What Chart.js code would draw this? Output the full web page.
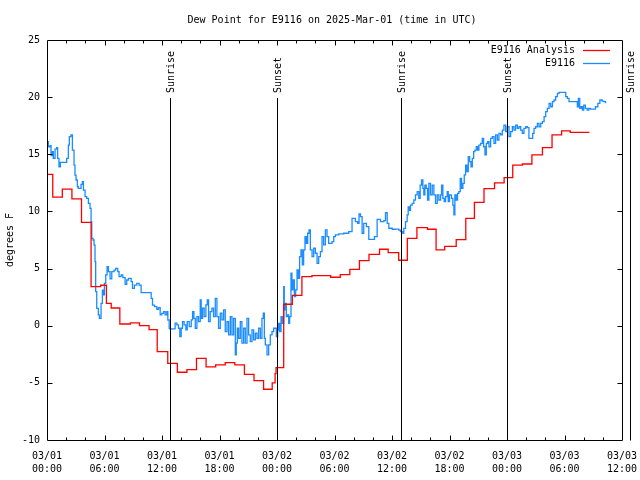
<!DOCTYPE html>
<html>
<head>
<meta charset="utf-8">
<script src="https://cdn.jsdelivr.net/npm/chart.js@4.4.1/dist/chart.umd.min.js"></script>
<style>
  html, body { margin: 0; padding: 0; background: #fff; }
</style>
</head>
<body>
<canvas id="dewChart" width="640" height="480"></canvas>
<script>
// hours since 03/01 00:00 UTC
var tickLabels = [
  ["03/01", "00:00"], ["03/01", "06:00"], ["03/01", "12:00"], ["03/01", "18:00"],
  ["03/02", "00:00"], ["03/02", "06:00"], ["03/02", "12:00"], ["03/02", "18:00"],
  ["03/03", "00:00"], ["03/03", "06:00"], ["03/03", "12:00"]
];

var sunHours = [12.85, 23.95, 36.9, 47.95, 60.85];
var sunLabels = ["Sunrise", "Sunset", "Sunrise", "Sunset", "Sunrise"];

// E9116 Analysis (hourly steps)
var analysisHours = [0, 0.6, 1.6, 2.6, 3.6, 4.6, 5.6, 6.2, 6.7, 7.6,
  8.7, 9.65, 10.65, 11.5, 12.6, 13.6, 14.6, 15.6, 16.6, 17.6,
  18.6, 19.6, 20.6, 21.6, 22.6, 23.5, 23.8, 23.9, 24.7, 25.6,
  26.6, 27.65, 29.6, 30.6, 31.6, 32.6, 33.6, 34.7, 35.6, 36.7,
  37.6, 38.6, 39.7, 40.6, 41.5, 42.7, 43.7, 44.6, 45.6, 46.7,
  47.7, 48.6, 49.6, 50.6, 51.7, 52.7, 53.7, 54.6, 56.6];
var analysisValues = [13.25, 11.26, 11.96, 11.09, 9.05, 3.42, 3.54, 1.96, 1.55, 0.15,
  0.24, 0.0, -0.35, -2.27, -3.29, -4.07, -3.84, -2.85, -3.6, -3.43,
  -3.23, -3.43, -4.25, -4.8, -5.56, -5.0, -4.2, -3.67, 1.88, 2.66,
  4.3, 4.38, 4.24, 4.47, 4.93, 5.7, 6.25, 6.69, 6.39, 5.73,
  7.65, 8.58, 8.44, 6.63, 6.95, 7.53, 9.4, 10.8, 12.0, 12.5,
  12.95, 14.06, 14.15, 14.94, 15.58, 16.69, 17.04, 16.92, 16.92];

// E9116 observations
var stationHours = [
  0, 0.14, 0.31, 0.42, 0.56, 0.66, 0.84, 1.01, 1.11, 1.25,
  1.39, 1.7, 2.0, 2.05, 2.23, 2.33, 2.5, 2.65, 2.82, 2.92,
  3.03, 3.17, 3.27, 3.55, 3.69, 3.8, 3.97, 4.14, 4.32, 4.49,
  4.6, 4.67, 4.8, 4.91, 5.01, 5.08, 5.19, 5.36, 5.47, 5.64,
  5.78, 5.89, 5.99, 6.13, 6.27, 6.41, 6.58, 6.76, 7.0, 7.17,
  7.38, 7.52, 7.73, 7.91, 8.15, 8.32, 8.5, 8.78, 8.92, 9.12,
  9.37, 9.61, 9.82, 10.24, 10.76, 10.87, 11.01, 11.22, 11.46, 11.63,
  11.81, 11.98, 12.16, 12.33, 12.5, 12.61, 12.75, 12.85, 13.0, 13.37,
  13.55, 13.72, 13.86, 14.0, 14.14, 14.31, 14.49, 14.63, 14.84, 15.05,
  15.19, 15.33, 15.47, 15.64, 15.81, 15.99, 16.09, 16.23, 16.4, 16.58,
  16.72, 16.86, 17.03, 17.21, 17.38, 17.56, 17.73, 17.9, 18.08, 18.25,
  18.43, 18.6, 18.78, 18.95, 19.13, 19.3, 19.47, 19.65, 19.75, 19.86,
  20.0, 20.17, 20.34, 20.52, 20.69, 20.87, 21.04, 21.21, 21.39, 21.56,
  21.74, 21.91, 22.08, 22.26, 22.43, 22.57, 22.68, 22.78, 22.96, 23.13,
  23.3, 23.48, 23.65, 23.93, 24.07, 24.17, 24.28, 24.42, 24.56, 24.7,
  24.76, 24.87, 24.97, 25.11, 25.22, 25.32, 25.46, 25.56, 25.67, 25.81,
  25.95, 26.09, 26.23, 26.36, 26.5, 26.64, 26.78, 26.92, 27.06, 27.2,
  27.34, 27.48, 27.66, 27.83, 28.0, 28.18, 28.35, 28.53, 28.7, 28.87,
  29.05, 29.22, 29.39, 29.57, 29.74, 29.92, 30.09, 30.44, 30.96, 31.48,
  31.83, 32.18, 32.42, 32.56, 32.71, 32.88, 33.05, 33.33, 33.58, 33.93,
  34.17, 34.45, 34.8, 35.15, 35.32, 35.5, 35.67, 36.02, 36.36, 36.71,
  36.88, 37.13, 37.23, 37.41, 37.58, 37.69, 37.83, 37.93, 38.1, 38.28,
  38.45, 38.63, 38.8, 38.94, 39.08, 39.22, 39.32, 39.43, 39.57, 39.71,
  39.85, 40.02, 40.2, 40.37, 40.54, 40.72, 40.89, 41.07, 41.17, 41.31,
  41.45, 41.59, 41.76, 41.87, 42.0, 42.21, 42.35, 42.46, 42.56, 42.7,
  42.84, 42.98, 43.12, 43.26, 43.4, 43.54, 43.68, 43.82, 43.96, 44.1,
  44.24, 44.38, 44.52, 44.65, 44.79, 44.93, 45.07, 45.25, 45.42, 45.56,
  45.7, 45.84, 45.98, 46.12, 46.29, 46.47, 46.64, 46.81, 46.99, 47.16,
  47.34, 47.51, 47.68, 47.86, 48.03, 48.21, 48.38, 48.56, 48.73, 48.9,
  49.08, 49.25, 49.43, 49.6, 49.77, 49.95, 50.12, 50.29, 50.54, 50.68,
  50.82, 50.99, 51.17, 51.34, 51.52, 51.69, 51.87, 52.04, 52.21, 52.39,
  52.56, 52.74, 52.91, 53.08, 53.26, 53.43, 53.95, 54.13, 54.3, 54.47,
  54.82, 55.17, 55.34, 55.45, 55.59, 55.73, 55.87, 56.01, 56.18, 56.36,
  56.53, 56.71, 56.99, 57.23, 57.48, 57.69, 57.93, 58.1, 58.28
];
var stationValues = [
  16.1, 15.66, 15.75, 14.88, 15.23, 14.64, 15.46, 15.58, 14.64, 13.9,
  14.3, 14.3, 14.3, 14.64, 15.81, 16.54, 16.69, 15.37, 14.06, 13.18,
  12.75, 12.16, 12.02, 12.37, 12.6, 11.87, 11.29, 11.14, 10.7, 10.27,
  9.1, 7.64, 7.5, 7.06, 5.6, 2.98, 1.52, 0.94, 0.65, 1.96,
  3.12, 2.69, 3.71, 4.44, 5.17, 4.73, 4.09, 4.73, 4.87, 5.02,
  4.73, 4.29, 4.44, 4.2, 3.62, 4.0, 4.15, 3.85, 3.27, 3.56,
  3.71, 3.56, 2.89, 2.89, 2.89, 2.4, 1.81, 1.67, 1.43, 1.58,
  0.94, 1.08, 1.23, 0.94, 1.23, 0.5, -0.23, -0.29, -0.28, 0.22,
  0.07, -0.22, -0.95, -0.22, 0.36, 0.07, -0.37, 0.36, -0.08, 0.51,
  1.24, 0.65, -0.22, 0.8, 0.36, 2.26, 0.65, 1.53, 0.8, 1.82,
  2.26, 0.36, 1.24, 1.53, 0.8, 2.4, 0.8, -0.22, 1.09, 0.51,
  1.38, -0.51, 0.36, -0.8, 0.8, -0.8, 0.65, -2.55, -1.53, -0.22,
  -1.1, 0.36, -1.53, -0.22, -1.53, 0.65, -0.8, -1.39, -0.37, -1.24,
  -0.66, -1.1, -0.22, -1.1, 0.65, 1.09, -1.1, -1.68, -2.55, -1.68,
  -0.8, -0.51, -0.22, -0.95, -0.37, 0.21, -0.51, 0.8, 0.21, 3.42,
  1.38, 1.96, 0.8, 0.94, 0.21, 0.8, 4.59, 3.13, 4.01, 2.55,
  3.13, 4.88, 4.15, 6.05, 6.63, 5.32, 6.63, 7.8, 7.21, 8.09,
  8.38, 6.63, 6.05, 6.78, 6.34, 5.46, 6.05, 6.49, 7.8, 7.07,
  8.38, 7.8, 7.21, 7.21, 7.36, 7.8, 7.94, 8.03, 8.09, 8.23,
  9.4, 9.11, 8.96, 9.78, 9.55, 8.09, 8.96, 8.67, 7.56, 7.56,
  7.8, 9.31, 9.11, 9.2, 9.9, 8.96, 8.53, 8.44, 8.46, 8.37,
  8.23, 8.08, 8.52, 9.1, 9.69, 10.4, 10.1, 10.56, 10.7, 11.0,
  11.44, 11.73, 11.14, 12.31, 12.75, 12.02, 11.44, 12.31, 12.02, 11.0,
  12.46, 11.44, 12.31, 11.44, 10.7, 11.44, 11.0, 11.44, 12.31, 11.14,
  10.85, 11.29, 11.73, 10.85, 11.44, 11.14, 10.56, 9.69, 11.44, 11.0,
  11.58, 11.73, 12.89, 12.02, 12.46, 13.19, 14.06, 13.48, 14.79, 14.35,
  13.9, 14.64, 15.23, 15.37, 15.66, 15.37, 15.81, 15.96, 16.39, 15.66,
  14.94, 15.96, 16.1, 15.66, 16.39, 16.54, 15.96, 16.69, 16.25, 16.83,
  16.69, 17.12, 17.56, 16.98, 17.41, 16.54, 16.98, 17.41, 17.12, 17.56,
  17.27, 17.41, 17.12, 16.83, 17.27, 17.41, 17.33, 16.39, 16.39, 16.83,
  17.27, 17.41, 17.71, 17.41, 17.71, 17.85, 18.29, 18.73, 19.02, 19.46,
  19.16, 19.6, 19.75, 20.04, 20.33, 20.42, 20.42, 20.04, 19.89, 19.6,
  19.6, 19.6, 19.16, 19.89, 19.02, 19.16, 18.87, 19.31, 19.02, 18.87,
  19.02, 18.96, 18.96, 19.16, 19.46, 19.75, 19.66, 19.6, 19.46
];

var FONT = "'DejaVu Sans Mono', 'Liberation Mono', monospace";

function toPoints(xs, ys) {
  return xs.map(function (x, i) { return { x: x, y: ys[i] }; });
}

// title, frame, inward ticks, sun lines and legend
var decorPlugin = {
  id: "decor",
  afterDraw: function (chart) {
    var ctx = chart.ctx;
    var area = chart.chartArea;
    var xs = chart.scales.x;
    var ys = chart.scales.y;
    ctx.save();
    ctx.fillStyle = "#000";
    ctx.strokeStyle = "#000";
    ctx.lineWidth = 1;
    ctx.font = "10px " + FONT;

    ctx.textAlign = "center";
    ctx.textBaseline = "middle";
    ctx.fillText("Dew Point for E9116 on 2025-Mar-01 (time in UTC)", 332, 20);

    var L = Math.round(area.left) + 0.5, R = Math.round(area.right) + 0.5;
    var T = Math.round(area.top) + 0.5, B = Math.round(area.bottom) + 0.5;
    ctx.beginPath();
    ctx.rect(L, T, R - L, B - T);
    ctx.stroke();

    ctx.beginPath();
    for (var h = 2; h < 60; h += 2) {
      var px = Math.round(xs.getPixelForValue(h)) + 0.5;
      var len = h % 6 === 0 ? 5 : 3;
      ctx.moveTo(px, B); ctx.lineTo(px, B - len);
      ctx.moveTo(px, T); ctx.lineTo(px, T + len);
    }
    for (var v = -5; v < 25; v += 5) {
      var py = Math.round(ys.getPixelForValue(v)) + 0.5;
      ctx.moveTo(L, py); ctx.lineTo(L + 5, py);
      ctx.moveTo(R, py); ctx.lineTo(R - 5, py);
    }
    ctx.stroke();

    sunHours.forEach(function (sh, i) {
      var sx = Math.round(xs.getPixelForValue(sh)) + 0.5;
      ctx.beginPath();
      ctx.moveTo(sx, 98);
      ctx.lineTo(sx, B);
      ctx.stroke();
      ctx.save();
      ctx.translate(sx + 0.5, 93);
      ctx.rotate(-Math.PI / 2);
      ctx.textAlign = "left";
      ctx.textBaseline = "middle";
      ctx.fillText(sunLabels[i], 0, 0);
      ctx.restore();
    });

    ctx.textAlign = "right";
    ctx.textBaseline = "middle";
    chart.data.datasets.forEach(function (ds, i) {
      var ly = 50 + i * 13;
      ctx.fillStyle = "#000";
      ctx.fillText(ds.label, 575, ly);
      ctx.strokeStyle = ds.borderColor;
      ctx.lineWidth = 1.3;
      ctx.beginPath();
      ctx.moveTo(583, ly + 0.5);
      ctx.lineTo(610, ly + 0.5);
      ctx.stroke();
    });
    ctx.restore();
  }
};

var ctx = document.getElementById("dewChart").getContext("2d");

new Chart(ctx, {
  type: "line",
  data: {
    datasets: [
      {
        label: "E9116 Analysis",
        data: toPoints(analysisHours, analysisValues),
        borderColor: "#ff0000",
        borderWidth: 1.3,
        pointRadius: 0,
        stepped: true,
        fill: false
      },
      {
        label: "E9116",
        data: toPoints(stationHours, stationValues),
        borderColor: "#1a8cff",
        borderWidth: 1.3,
        pointRadius: 0,
        stepped: true,
        fill: false
      }
    ]
  },
  options: {
    responsive: false,
    animation: false,
    devicePixelRatio: 1,
    layout: { padding: { top: 40, right: 18, left: 0, bottom: 0 } },
    plugins: {
      legend: { display: false },
      tooltip: { enabled: false },
      title: { display: false }
    },
    scales: {
      x: {
        type: "linear",
        min: 0,
        max: 60,
        grid: { display: false, drawTicks: false },
        border: { display: false },
        afterFit: function (s) {
          s.height = 40;
          s.paddingLeft = 0;
          s.paddingRight = 0;
        },
        ticks: {
          stepSize: 6,
          autoSkip: false,
          maxRotation: 0,
          padding: 10,
          color: "#000",
          font: { family: FONT, size: 10, lineHeight: 1.3 },
          callback: function (val) { return tickLabels[Math.round(val / 6)]; }
        }
      },
      y: {
        min: -10,
        max: 25,
        grid: { display: false, drawTicks: false },
        border: { display: false },
        afterFit: function (s) { s.width = 47; },
        title: {
          display: true,
          text: "degrees F",
          color: "#000",
          padding: { top: 4, bottom: 0 },
          font: { family: FONT, size: 10 }
        },
        ticks: {
          stepSize: 5,
          padding: 7,
          color: "#000",
          font: { family: FONT, size: 10 }
        }
      }
    }
  },
  plugins: [decorPlugin]
});
</script>
</body>
</html>
